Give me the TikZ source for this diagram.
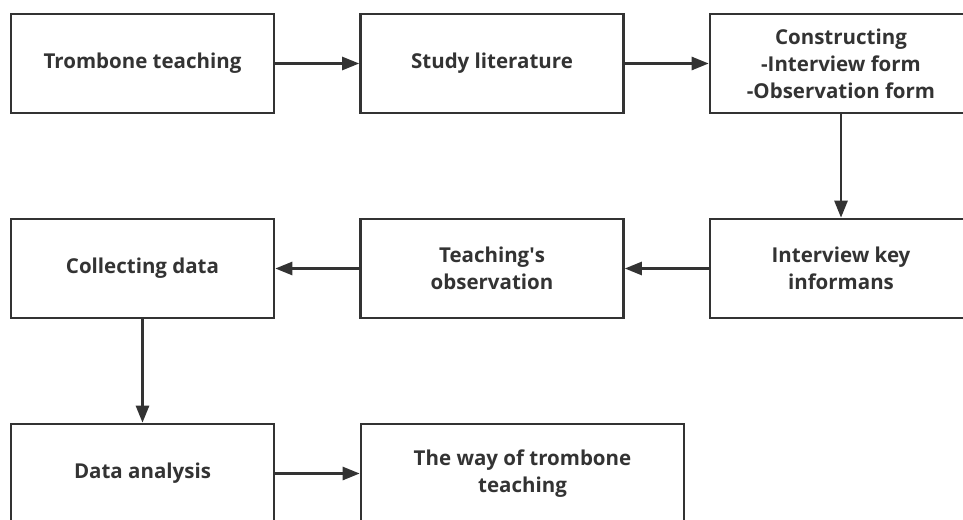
\documentclass[tikz,border=0pt]{standalone}
\usepackage{fontspec}
\setmainfont{Open Sans}
\usetikzlibrary{arrows.meta}

\definecolor{ink}{HTML}{333333}

\tikzset{
    stage/.style={draw=ink, line width=2.6pt, text=ink, align=center,
        minimum width=263pt, minimum height=99pt, inner sep=0pt,
        font=\fontsize{20.5}{27}\selectfont\bfseries},
    flow/.style={draw=ink, line width=2.6pt,
        -{Triangle[length=17pt,width=13pt]}}
}

\begin{document}
\begin{tikzpicture}[x=1pt, y=-1pt]
            \useasboundingbox (0,0) rectangle (963,519);

            \node[stage] (trombone) at (142.5, 63.5) {Trombone teaching};
            \node[stage] (literature) at (492, 63.5) {Study literature};
            \node[stage, minimum width=262pt] (construct) at (841, 63.5) {Constructing\\-Interview form\\-Observation form};

            \node[stage] (collect) at (142.5, 268.5) {Collecting data};
            \node[stage] (observe) at (492, 268.5) {Teaching\textquotesingle s\\observation};
            \node[stage, minimum width=262pt] (interview) at (841, 268.5) {Interview key\\informans};

            \node[stage] (analysis) at (142.5, 473.5) {Data analysis};
            \node[stage, minimum width=323pt] (result) at (522.5, 473.5) {The way of trombone\\teaching};

            \draw[flow] (trombone) -- (literature);
            \draw[flow] (literature) -- (construct);
            \draw[flow] (construct) -- (interview);
            \draw[flow] (interview) -- (observe);
            \draw[flow] (observe) -- (collect);
            \draw[flow] (collect) -- (analysis);
            \draw[flow] (analysis.east) -- (result.west |- analysis.east);

        \end{tikzpicture}
\end{document}
